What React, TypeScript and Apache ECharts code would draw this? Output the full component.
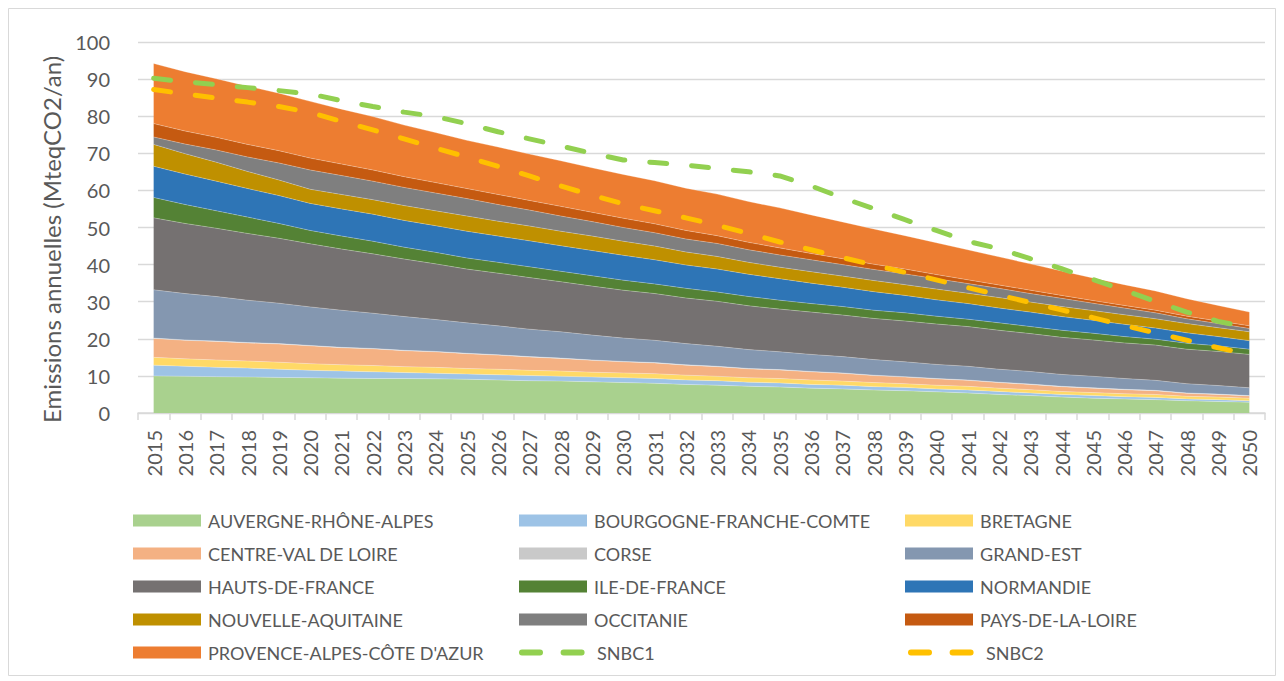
import React, { useEffect, useRef } from "react";
import * as echarts from "echarts";

const years = [
  "2015","2016","2017","2018","2019","2020","2021","2022","2023","2024",
  "2025","2026","2027","2028","2029","2030","2031","2032","2033","2034",
  "2035","2036","2037","2038","2039","2040","2041","2042","2043","2044",
  "2045","2046","2047","2048","2049","2050",
];

const auvergne = [10.0,9.9,9.8,9.7,9.6,9.5,9.4,9.3,9.3,9.2,9.1,8.9,8.7,8.6,8.4,8.2,8.0,7.7,7.5,7.2,7.0,6.7,6.5,6.2,6.0,5.7,5.4,5.0,4.7,4.3,4.0,3.8,3.6,3.3,3.1,2.9];
const bourgogne = [2.9,2.7,2.5,2.4,2.2,2.0,1.9,1.8,1.6,1.5,1.4,1.4,1.4,1.3,1.3,1.3,1.3,1.2,1.2,1.1,1.1,1.0,1.0,0.9,0.9,0.8,0.8,0.8,0.7,0.7,0.7,0.6,0.6,0.5,0.5,0.4];
const bretagne = [2.1,2.0,2.0,1.9,1.9,1.8,1.7,1.7,1.6,1.6,1.5,1.5,1.4,1.4,1.3,1.3,1.3,1.3,1.2,1.2,1.2,1.2,1.1,1.1,1.0,1.0,1.0,0.9,0.9,0.8,0.8,0.8,0.8,0.7,0.7,0.7];
const centre = [5.1,5.0,5.0,4.9,4.9,4.8,4.6,4.5,4.3,4.2,4.0,3.8,3.6,3.4,3.2,3.0,2.9,2.7,2.6,2.4,2.3,2.2,2.1,1.9,1.8,1.7,1.6,1.5,1.4,1.3,1.2,1.1,1.0,0.8,0.7,0.6];
const corse = [0.1,0.1,0.1,0.1,0.1,0.1,0.1,0.1,0.1,0.1,0.1,0.1,0.1,0.1,0.1,0.1,0.1,0.1,0.1,0.1,0.1,0.1,0.1,0.1,0.1,0.1,0.1,0.1,0.1,0.1,0.1,0.1,0.1,0.1,0.1,0.1];
const grandEst = [13.0,12.5,12.0,11.4,10.9,10.4,10.0,9.5,9.1,8.6,8.2,7.8,7.4,7.1,6.7,6.3,6.0,5.7,5.4,5.1,4.8,4.6,4.4,4.2,4.0,3.8,3.7,3.5,3.4,3.2,3.1,2.9,2.7,2.5,2.3,2.1];
const hautsDeFrance = [19.4,18.9,18.4,18.0,17.5,17.0,16.5,16.0,15.5,15.0,14.5,14.2,13.9,13.5,13.2,12.9,12.6,12.3,12.1,11.8,11.5,11.4,11.2,11.1,11.0,10.9,10.7,10.5,10.2,10.0,9.8,9.6,9.5,9.3,9.2,9.0];
const ileDeFrance = [5.5,5.1,4.7,4.4,4.0,3.6,3.5,3.4,3.2,3.1,3.0,2.9,2.9,2.8,2.8,2.7,2.6,2.6,2.5,2.5,2.4,2.3,2.3,2.2,2.2,2.1,2.0,2.0,1.9,1.9,1.8,1.7,1.6,1.6,1.5,1.4];
const normandie = [8.4,8.2,8.0,7.7,7.5,7.3,7.3,7.3,7.2,7.2,7.2,7.1,7.0,6.9,6.8,6.7,6.5,6.3,6.2,6.0,5.8,5.5,5.2,5.0,4.7,4.4,4.2,4.0,3.9,3.7,3.5,3.3,3.0,2.8,2.5,2.3];
const nouvelleAquitaine = [5.9,5.5,5.1,4.6,4.2,3.8,3.9,3.9,4.0,4.0,4.1,4.0,4.0,3.9,3.9,3.8,3.7,3.5,3.4,3.2,3.1,3.1,3.0,3.0,2.9,2.9,2.8,2.8,2.7,2.7,2.6,2.6,2.5,2.5,2.4,2.4];
const occitanie = [2.0,2.6,3.3,3.9,4.6,5.2,5.1,5.0,4.9,4.8,4.7,4.5,4.3,4.1,3.9,3.7,3.6,3.5,3.5,3.4,3.3,3.2,3.1,3.0,2.9,2.8,2.6,2.5,2.3,2.2,2.0,1.8,1.6,1.3,1.1,0.9];
const paysDeLaLoire = [3.6,3.5,3.4,3.4,3.3,3.2,3.1,3.0,2.9,2.8,2.7,2.7,2.6,2.6,2.5,2.5,2.4,2.3,2.1,2.0,1.9,1.7,1.6,1.4,1.3,1.1,1.0,0.9,0.9,0.8,0.7,0.7,0.7,0.7,0.7,0.7];
const paca = [16.2,16.0,15.8,15.7,15.5,15.3,14.8,14.4,13.9,13.5,13.0,12.8,12.5,12.3,12.0,11.8,11.6,11.4,11.2,11.0,10.8,10.4,9.9,9.5,9.0,8.6,8.1,7.6,7.1,6.6,6.1,5.6,5.2,4.7,4.2,3.7];

const snbc1 = [90.2,89.3,88.5,87.7,86.9,86.0,84.2,82.6,81.1,79.9,78.0,75.8,73.9,72.0,70.0,68.2,67.5,66.8,65.9,65.0,63.9,61.2,58.0,55.1,52.1,49.2,46.3,44.3,41.6,38.9,36.0,33.1,30.1,27.2,24.7,23.0];
const snbc2 = [87.2,86.0,84.9,83.8,82.6,81.0,78.6,76.3,73.9,71.4,69.0,66.5,63.9,61.2,58.7,56.4,54.5,52.6,50.6,48.4,46.1,44.0,41.9,39.9,37.9,35.9,33.8,31.8,29.8,27.8,25.7,23.6,21.6,19.6,17.6,15.8];

const regionNames = [
  "AUVERGNE-RHÔNE-ALPES",
  "BOURGOGNE-FRANCHE-COMTE",
  "BRETAGNE",
  "CENTRE-VAL DE LOIRE",
  "CORSE",
  "GRAND-EST",
  "HAUTS-DE-FRANCE",
  "ILE-DE-FRANCE",
  "NORMANDIE",
  "NOUVELLE-AQUITAINE",
  "OCCITANIE",
  "PAYS-DE-LA-LOIRE",
  "PROVENCE-ALPES-CÔTE D'AZUR",
];
const regionValues = [
  auvergne, bourgogne, bretagne, centre, corse, grandEst, hautsDeFrance,
  ileDeFrance, normandie, nouvelleAquitaine, occitanie, paysDeLaLoire, paca,
];
const regionColors = [
  "#A9D18E", "#9DC3E6", "#FFD966", "#F4B183", "#C9C9C9", "#8497B0", "#757171",
  "#548235", "#2E75B6", "#BF9000", "#7F7F7F", "#C55A11", "#ED7D31",
];
const lineNames = ["SNBC1", "SNBC2"];
const lineValues = [snbc1, snbc2];
const lineColors = ["#92D050", "#FFC000"];

const yTitle = "Emissions annuelles (MteqCO2/an)";

const FONT = "Lato, 'Open Sans', sans-serif";
const TXT = "#595959";

export default function App() {
  const ref = useRef<HTMLDivElement>(null);
  useEffect(() => {
    document.body.style.margin = "0";
    document.body.style.overflow = "hidden";
    const chart = echarts.init(ref.current!, null, { renderer: "svg" });
    const areaSeries = regionNames.map((name, i) => ({
      name,
      type: "line",
      stack: "total",
      data: regionValues[i],
      symbol: "none",
      showSymbol: false,
      lineStyle: { width: 0.6, color: "rgba(255,255,255,0.45)" },
      itemStyle: { color: regionColors[i] },
      areaStyle: { color: regionColors[i], opacity: 1 },
      z: 2,
    }));
    const dashSeries = lineNames.map((name, i) => ({
      name,
      type: "line",
      data: lineValues[i],
      symbol: "none",
      showSymbol: false,
      itemStyle: { color: lineColors[i] },
      lineStyle: { color: lineColors[i], width: 5, type: [17, 25], cap: "round" },
      z: 5,
    }));
    const legendData = [
      ...regionNames.map((n, i) => ({
        name: n,
        icon: "rect",
        itemStyle: { color: regionColors[i], borderWidth: 0 },
      })),
      ...lineNames.map((n, i) => ({
        name: n,
        itemStyle: { opacity: 0, color: "rgba(0,0,0,0)", borderWidth: 0 },
        lineStyle: { color: lineColors[i], width: 6, type: [18, 23.6], cap: "round" },
      })),
    ];
    chart.setOption({
      animation: false,
      backgroundColor: "#ffffff",
      textStyle: { fontFamily: FONT },
      graphic: [
        {
          type: "rect",
          shape: { x: 8.5, y: 8.5, width: 1267, height: 667 },
          style: { fill: "none", stroke: "#D9D9D9", lineWidth: 1 },
          silent: true,
        },
        {
          type: "text",
          x: 51,
          y: 239.5,
          rotation: Math.PI / 2,
          silent: true,
          style: {
            text: yTitle,
            fontFamily: FONT,
            fontSize: 24,
            fill: TXT,
            align: "center",
            verticalAlign: "middle",
          },
        },
      ],
      grid: { left: 138, right: 19, top: 42, bottom: 268 },
      legend: {
        data: legendData,
        left: 133,
        top: 509,
        width: 1170,
        padding: 0,
        orient: "horizontal",
        itemWidth: 68,
        itemHeight: 12,
        itemGap: 10,
        selectedMode: false,
        textStyle: {
          fontFamily: FONT,
          fontSize: 18,
          color: TXT,
          width: 301,
          lineHeight: 23,
          padding: [0, 0, 0, 2],
        },
      },
      xAxis: {
        type: "category",
        data: years,
        boundaryGap: true,
        axisLine: { show: true, lineStyle: { color: "#D9D9D9", width: 1.5 } },
        axisTick: { show: true, length: 7, lineStyle: { color: "#D9D9D9", width: 1.5 } },
        axisLabel: {
          interval: 0,
          rotate: 90,
          margin: 17,
          fontSize: 20,
          color: TXT,
          fontFamily: FONT,
        },
      },
      yAxis: {
        type: "value",
        min: 0,
        max: 100,
        interval: 10,
        axisLine: { show: false },
        axisTick: { show: false },
        axisLabel: { margin: 28, fontSize: 20, color: TXT, fontFamily: FONT },
        splitLine: { lineStyle: { color: "#D9D9D9", width: 1.3 } },
      },
      series: [...areaSeries, ...dashSeries],
    });
    return () => chart.dispose();
  }, []);
  return <div ref={ref} style={{ width: 1284, height: 681 }} />;
}
